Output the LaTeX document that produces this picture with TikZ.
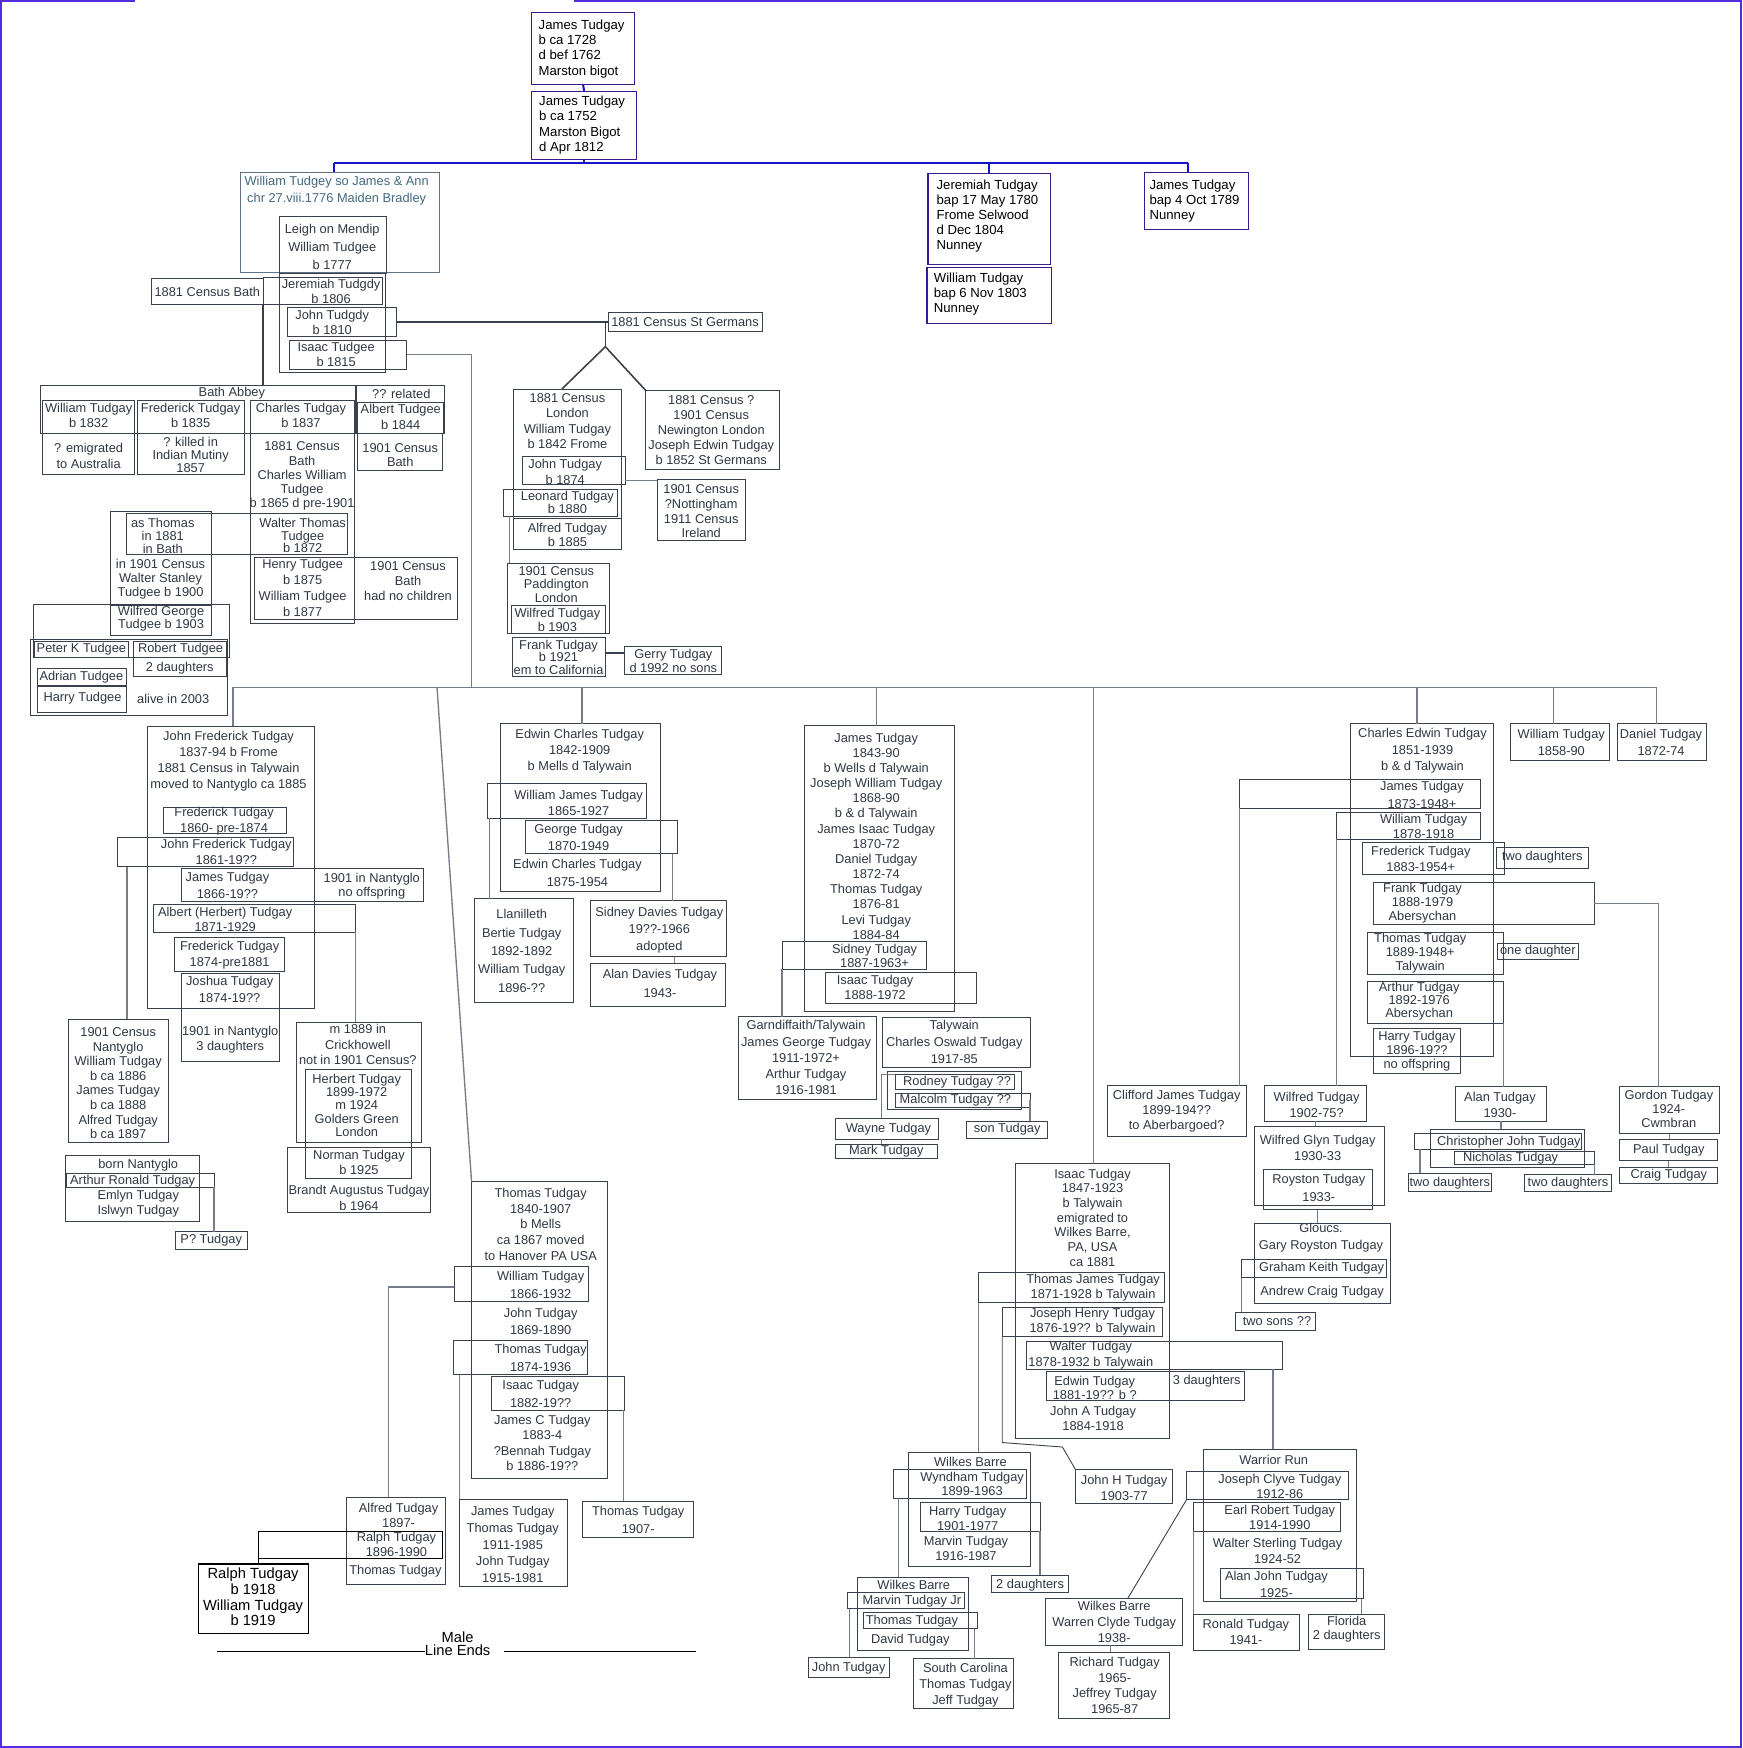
\documentclass[tikz,border=0pt]{standalone}
\usepackage{fontspec}
\setmainfont{Liberation Sans}

\definecolor{boxc}{RGB}{58,64,76}
\definecolor{txtc}{RGB}{48,55,66}
\definecolor{linkc}{RGB}{118,124,136}
\definecolor{bluc}{RGB}{20,20,200}
\definecolor{frmc}{RGB}{84,44,224}
\definecolor{topc}{RGB}{58,26,140}
\definecolor{stbc}{RGB}{66,104,128}
\definecolor{stbd}{RGB}{96,114,134}

\newcommand\nf{\fontsize{11.5}{13.8}\selectfont}
\tikzset{
  bx/.style={draw=boxc,line width=0.8pt,inner sep=0pt,outer sep=0pt},
  topbx/.style={draw=topc,line width=1pt},
  blk/.style={draw=black,line width=1.1pt},
  tx/.style={inner sep=0pt,align=center,text=txtc,font=\nf},
  toptx/.style={inner sep=0pt,align=left,anchor=west,text=black,font=\fontsize{11.8}{13.5}\selectfont},
  ls/.style={font=\fontsize{11.5}{#1}\selectfont},
  lnk/.style={draw=linkc,line width=1.2pt},
  dlnk/.style={draw=boxc,line width=1.4pt},
  blu/.style={draw=bluc,line width=1.8pt},
  frm/.style={draw=frmc,line width=1.6pt},
}
% box from corner to corner, text placed on its own
\newcommand\famb[6][]{\node[bx,#1,minimum width={#5-#3},minimum height={#6-#4}] (#2) at ({(#3+#5)/2},{(#4+#6)/2}) {};}
\newcommand\famt[5][]{\node[tx,#1] (#2) at (#3,#4) {#5};}

\begin{document}
\begin{tikzpicture}[x=1pt,y=-1pt]
\useasboundingbox (0,0) rectangle (1563,1568);
\fill[white] (0,0) rectangle (1563,1568);
\draw[frm] (0.8,0) -- (0.8,1567.2) -- (1561.6,1567.2) -- (1561.6,0);
\draw[frm] (0,0.8) -- (121,0.8);
\draw[frm] (515,0.8) -- (1561.6,0.8);

% first generations
\famb[topbx]{a1}{477}{11}{569}{75.6}
\node[toptx] (a1-t) at (483,44) {James Tudgay\\b ca 1728\\d bef 1762\\Marston bigot};
\famb[topbx]{a2}{477}{82}{571}{143}
\node[toptx] (a2-t) at (483.5,112.2) {James Tudgay\\b ca 1752\\Marston Bigot\\d Apr 1812};
\famb[topbx]{jer}{832.4}{155.6}{942}{237}
\node[toptx] (jer-t) at (840,193.5) {Jeremiah Tudgay\\bap 17 May 1780\\Frome Selwood\\d Dec 1804\\Nunney};
\famb[topbx]{wil1803}{831.5}{240}{943.5}{290}
\node[toptx] (wil1803-t) at (837.5,264) {William Tudgay\\bap 6 Nov 1803\\Nunney};
\famb[topbx]{jam1789}{1026.6}{154.7}{1120}{205.7}
\node[toptx] (jam1789-t) at (1031,180) {James Tudgay\\bap 4 Oct 1789\\Nunney};

\famb[draw=stbd]{w1776}{215.6}{154.6}{394}{244.4}
\famt[text=stbc,ls=15.8]{w1776-t}{302}{171}{William Tudgey so James \& Ann\\chr 27.viii.1776 Maiden Bradley}
\famb{leigh}{251}{194}{347}{245}
\famt[ls=16.5]{leigh-t}{298}{221.5}{Leigh on Mendip\\William Tudgee\\b 1777}

\coordinate (barT1) at (300,146.5);
\coordinate (barT2) at (1066,146.5);
\draw[blu] (a1.south) -- (a2.north);
\draw[blu] (barT1) -- (barT2);
\draw[blu] (a2.south) -- (a2.south |- barT1);
\draw[blu] (barT1) -- (barT1 |- w1776.north);
\draw[blu] (jer.north) -- (jer.north |- barT1);
\draw[blu] (barT2) -- (barT2 |- jam1789.north);

% sons of William
\famb{cbath}{136}{250}{236}{273}
\famt{cbath-t}{186}{262}{1881 Census Bath}
\famb{sons}{251}{245}{346}{334}
\famb{jer1806}{236}{249}{343}{273}
\famt[ls=12.7]{jer1806-t}{297}{261.4}{Jeremiah Tudgdy\\b 1806}
\famb{john1810}{258}{276}{356}{302}
\famt[ls=13.5]{john1810-t}{298}{288.8}{John Tudgdy\\b 1810}
\famb{isaac1815}{260}{305}{365}{331}
\famt[ls=14]{isaac1815-t}{301.5}{318}{Isaac Tudgee\\b 1815}
\famb{stg}{545.5}{280}{683.5}{297}
\famt{stg-t}{614.5}{288.5}{1881 Census St Germans}

% Bath Abbey
\famb{abbey}{36}{346}{319}{389}
\famt{abbey-t}{208}{353}{Bath Abbey}
\famb{related}{320}{346}{399}{389}
\famt{related-t}{360}{353.5}{?? related}
\famb{wil1832}{38}{359}{121}{389}
\famt[ls=13.5]{wil1832-t}{79.5}{372.5}{William Tudgay\\b 1832}
\famb{fre1835}{123}{359}{219}{389}
\famt[ls=13.5]{fre1835-t}{171}{372.5}{Frederick Tudgay\\b 1835}
\famb{cha1837}{225}{359}{318}{389}
\famt[ls=13.5]{cha1837-t}{270}{372.5}{Charles Tudgay\\b 1837}
\famb{alb1844}{321}{361}{398}{389}
\famt[ls=14]{alb1844-t}{359.5}{374}{Albert Tudgee\\b 1844}
\famb{emig}{38}{389}{121}{426}
\famt[ls=14.5]{emig-t}{79.5}{409.3}{? emigrated\\to Australia}
\famb{mutiny}{123}{389}{219}{426}
\famt[ls=12]{mutiny-t}{171}{408}{? killed in\\Indian Mutiny\\1857}
\famb{chacol}{225}{389}{318}{559}
\famt[ls=12.7]{chacol-t}{271}{427}{1881 Census\\Bath\\Charles William\\Tudgee\\b 1865 d pre-1901}
\famb{c01bath}{321}{389}{397}{422}
\famt[ls=12.3]{c01bath-t}{359}{408}{1901 Census\\Bath}
\famb{wal1872}{225}{461}{312}{497}
\famt[ls=11.3]{wal1872-t}{271.5}{480.5}{Walter Thomas\\Tudgee\\b 1872}
\famb{stanley}{99}{459}{190}{570}
\famb{asthom}{113}{461}{190}{497}
\famt[ls=11.5]{asthom-t}{146}{480.5}{as Thomas\\in 1881\\in Bath}
\famt[ls=12.5]{stanley-t}{144}{519.5}{in 1901 Census\\Walter Stanley\\Tudgee b 1900}
\famb{wilgeo}{99}{543}{190}{570}
\famt[ls=10.5]{wilgeo-t}{144.5}{555}{Wilfred George\\Tudgee b 1903}
\famb{henry}{228}{500}{318}{556}
\famt[ls=14.3]{henry-t}{271.5}{527.5}{Henry Tudgee\\b 1875\\William Tudgee\\b 1877}
\famb{nochild}{318}{500}{410}{556}
\famt[ls=13.5]{nochild-t}{366}{521.5}{1901 Census\\Bath\\had no children}
\draw[bx] (asthom.north east) -- (wal1872.north west);
\draw[bx] (asthom.south east) -- (wal1872.south west);

\famb{grpA}{30}{542}{206}{590}
\famb{grpB}{27.5}{574}{204}{642}
\famb{peter}{31}{575}{115}{590}
\famt{peter-t}{73}{582.6}{Peter K Tudgee}
\famb{robert}{119.5}{575}{203}{590}
\famt{robert-t}{162}{582.6}{Robert Tudgee}
\famb{dau2r}{119.5}{590}{203}{607}
\famt{dau2r-t}{161.3}{599.5}{2 daughters}
\famb{adrian}{34}{600}{113}{615}
\famt{adrian-t}{73}{607.7}{Adrian Tudgee}
\famb{harryT}{34}{616}{113}{639}
\famt{harryT-t}{74}{626.5}{Harry Tudgee}
\famt{alive-t}{155.4}{626.5}{alive in 2003}

% London and St Germans
\famb{lon}{461}{349}{557}{493}
\famt[ls=13.8]{lon-t}{509}{377.8}{1881 Census\\London\\William Tudgay\\b 1842 Frome}
\famb{john1874}{469}{409}{561}{435}
\famt[ls=14.4]{john1874-t}{507}{423}{John Tudgay\\b 1874}
\famb{leo1880}{452}{439}{554}{463}
\famt[ls=11.7]{leo1880-t}{509}{450.8}{Leonard Tudgay\\b 1880}
\famb{alf1885}{461}{465}{557}{493}
\famt[ls=12.5]{alf1885-t}{509}{479.5}{Alfred Tudgay\\b 1885}
\famb{nott}{589.5}{430}{669}{484.5}
\famt[ls=13.2]{nott-t}{629}{458.6}{1901 Census\\?Nottingham\\1911 Census\\Ireland}
\famb{cen81q}{579}{350}{699}{421}
\famt[ls=13.4]{cen81q-t}{638}{386}{1881 Census ?\\1901 Census\\Newington London\\Joseph Edwin Tudgay\\b 1852 St Germans}
\famb{padd}{455}{505}{547}{568}
\famt[ls=12.2]{padd-t}{499}{524.2}{1901 Census\\Paddington\\London}
\famb{wil1903}{459}{543}{543}{568}
\famt[ls=12.3]{wil1903-t}{500}{556.2}{Wilfred Tudgay\\b 1903}
\famb{frank1921}{460}{572}{543}{607}
\famt[ls=11]{frank1921-t}{501}{589.5}{Frank Tudgay\\b 1921\\em to California}
\famb{gerry}{560}{580}{647.5}{605}
\famt[ls=12.6]{gerry-t}{604}{592.5}{Gerry Tudgay\\d 1992 no sons}

\draw[dlnk] (cbath.south east) -- (cbath.south east |- abbey.north);
\draw[dlnk] (john1810.east) -- (john1810.east -| stg.west);
\coordinate (stgfork) at (543,311);
\draw[dlnk] (john1810.east -| stgfork) -- (stgfork);
\draw[dlnk] (stgfork) -- ([xshift=-5]lon.north);
\draw[dlnk] (stgfork) -- (cen81q.north west);
\coordinate (johnR) at ([yshift=-9]john1874.east);
\draw[lnk] (johnR) -- (johnR -| nott.west);
\coordinate (leoFoot) at ([xshift=5]leo1880.south west);
\draw[lnk] (leoFoot) -- (leoFoot |- padd.north);
\coordinate (gerL) at ([yshift=6.5]gerry.west);
\draw[dlnk] (gerL) -- (gerL -| frank1921.east);

% the long bar
\coordinate (barIsaac) at (423,616.5);
\coordinate (barDiag) at (392,616.5);
\coordinate (dropJF) at (209,616.5);
\coordinate (dropEC) at (522,616.5);
\coordinate (dropJT) at (786,616.5);
\coordinate (dropIT) at (981,616.5);
\coordinate (dropCE) at (1271,616.5);
\coordinate (dropW) at (1393.5,616.5);
\coordinate (dropD) at (1486,616.5);
\draw[lnk] (isaac1815.east) -| (barIsaac);
\draw[lnk] (dropJF) -- (dropD);

% John Frederick
\famb{jf}{132}{651.5}{282}{905}
\famt[ls=14.3]{jf-t}{205}{683}{John Frederick Tudgay\\1837-94 b Frome\\1881 Census in Talywain\\moved to Nantyglo ca 1885}
\famb{fre1860}{146.5}{724}{257}{748}
\famt[ls=14]{fre1860-t}{201}{736.6}{Frederick Tudgay\\1860- pre-1874}
\famb{jf1861}{105.5}{751}{263}{777.5}
\famt[ls=14.3]{jf1861-t}{203}{764.5}{John Frederick Tudgay\\1861-19??}
\famb{jam1866}{162.6}{779}{282}{808.5}
\famt[ls=15.4]{jam1866-t}{204}{794.3}{James Tudgay\\1866-19??}
\famb{nooff}{282}{779}{379.7}{808.5}
\famt[ls=12.4]{nooff-t}{333.5}{795.2}{1901 in Nantyglo\\no offspring}
\famb{alb1871}{138}{811}{318.6}{836}
\famt[ls=13.1]{alb1871-t}{202}{825}{Albert (Herbert) Tudgay\\1871-1929}
\famb{fre1874}{156.6}{841}{255}{871}
\famt[ls=14.6]{fre1874-t}{206}{856.7}{Frederick Tudgay\\1874-pre1881}
\famb{josh}{162.8}{873}{250.6}{904.6}
\famt[ls=15.5]{josh-t}{206}{887.7}{Joshua Tudgay\\1874-19??}
\famb{dau3}{162.8}{904.6}{250.6}{952}
\famt[ls=13.3]{dau3-t}{206.5}{932.3}{1901 in Nantyglo\\3 daughters}
\famb{nant}{61}{914.5}{151}{1025}
\famt[ls=13.1]{nant-t}{106}{971.6}{1901 Census\\Nantyglo\\William Tudgay\\b ca 1886\\James Tudgay\\b ca 1888\\Alfred Tudgay\\b ca 1897}
\famb{m1889}{266}{917}{378}{1025}
\famt[ls=13.6]{m1889-t}{321}{936.9}{m 1889 in\\Crickhowell\\not in 1901 Census?}
\famb{herb}{274}{959}{369}{1057}
\famt[ls=12]{herb-t}{320}{991.5}{Herbert Tudgay\\1899-1972\\m 1924\\Golders Green\\London}
\famb{norm}{258}{1029}{386}{1087.5}
\famt[ls=13.4]{norm-t}{322}{1042.4}{Norman Tudgay\\b 1925}
\famt[ls=14.5]{brandt-t}{322}{1074.3}{Brandt Augustus Tudgay\\b 1964}
\famb{bornN}{58.7}{1036.5}{179}{1095.5}
\famt{bornN-t}{124}{1045.3}{born Nantyglo}
\famb{arthR}{60}{1052.5}{192}{1065}
\famt{arthR-t}{119}{1059.4}{Arthur Ronald Tudgay}
\famt[ls=13.8]{emlyn-t}{124}{1079.7}{Emlyn Tudgay\\Islwyn Tudgay}
\famb{ptud}{157}{1105}{222}{1121}
\famt{ptud-t}{189.5}{1112.6}{P? Tudgay}

\draw[lnk] (dropJF) -- (dropJF |- jf.north);
\coordinate (jfFoot) at ([xshift=8.5]jf1861.south west);
\draw[lnk] (jfFoot) -- (jfFoot |- nant.north);
\draw[lnk] (alb1871.south east) -- (alb1871.south east |- m1889.north);
\draw[lnk] (arthR.south east) -- (arthR.south east |- ptud.north);

% Edwin Charles
\famb{ec}{449}{649}{592}{800}
\famt[ls=14.5]{ec-t}{520}{674}{Edwin Charles Tudgay\\1842-1909\\b Mells d Talywain}
\famb{wj1865}{437}{703}{580}{734}
\famt[ls=15]{wj1865-t}{519}{720.2}{William James Tudgay\\1865-1927}
\famb{geo1870}{471}{736}{608}{766}
\famt[ls=15.8]{geo1870-t}{519}{751.1}{George Tudgay\\1870-1949}
\famt[ls=16.4]{ec1875-t}{518}{782.8}{Edwin Charles Tudgay\\1875-1954}
\famb{llan}{426}{806}{514}{899.5}
\famt[ls=16.5]{llan-t}{468}{853}{Llanilleth\\Bertie Tudgay\\1892-1892\\William Tudgay\\1896-??}
\famb{sdt}{530}{808}{652}{858}
\famt[ls=15.2]{sdt-t}{591.4}{834.7}{Sidney Davies Tudgay\\19??-1966\\adopted}
\famb{ada}{530}{864}{651}{902.6}
\famt[ls=17.4]{ada-t}{592}{882}{Alan Davies Tudgay\\1943-}

\draw[lnk] (dropEC) -- (dropEC |- ec.north);
\coordinate (wjFoot) at ([xshift=2]wj1865.south west);
\draw[lnk] (wjFoot) -- (wjFoot |- llan.north);
\coordinate (geoFoot) at ([xshift=-4.5]geo1870.south east);
\draw[lnk] (geoFoot) -- (geoFoot |- sdt.north);
\coordinate (sdtFoot) at ([xshift=14]sdt.south);
\draw[lnk] (sdtFoot) -- (sdtFoot |- ada.north);

% James 1843-90
\famb{jt}{722}{651}{856}{907}
\famt[ls=13.6]{jt-t}{786}{750}{James Tudgay\\1843-90\\b Wells d Talywain\\Joseph William Tudgay\\1868-90\\b \& d Talywain\\James Isaac Tudgay\\1870-72\\Daniel Tudgay\\1872-74\\Thomas Tudgay\\1876-81\\Levi Tudgay\\1884-84}
\famb{sid1887}{701.6}{844.6}{831}{869.5}
\famt[ls=12.8]{sid1887-t}{784.5}{857.4}{Sidney Tudgay\\1887-1963+}
\famb{isa1888}{740}{872}{876}{900}
\famt[ls=13.3]{isa1888-t}{785}{885.4}{Isaac Tudgay\\1888-1972}
\famb{garn}{662}{912}{786}{986}
\famt[ls=14.6]{garn-t}{723}{948.8}{Garndiffaith/Talywain\\James George Tudgay\\1911-1972+\\Arthur Tudgay\\1916-1981}
\famb{taly}{791.5}{913}{924}{957.6}
\famt[ls=15.3]{taly-t}{856}{934.3}{Talywain\\Charles Oswald Tudgay\\1917-85}
\famb{rodO}{796}{961}{916}{995}
\famb{rod}{803}{964}{910}{977}
\famt{rod-t}{858.5}{970.5}{Rodney Tudgay ??}
\famb{mal}{803}{981}{924}{993}
\famt{mal-t}{857}{987}{Malcolm Tudgay ??}
\famb{wayne}{749}{1003}{842}{1022}
\famt{wayne-t}{797}{1013}{Wayne Tudgay}
\famb{mark}{749}{1026.5}{841}{1039}
\famt{mark-t}{795}{1032.8}{Mark Tudgay}
\famb{son}{867}{1005.6}{940}{1021}
\famt{son-t}{903.5}{1013.3}{son Tudgay}

\draw[lnk] (dropJT) -- (dropJT |- jt.north);
\draw[lnk] (sid1887.south west) -- (sid1887.south west |- garn.north);
\draw[lnk] (rod.north west) -| ([xshift=-5]wayne.north);
\draw[lnk] (mal.east) -- (mal.east |- son.north);
\coordinate (wayFoot) at ([xshift=-5]wayne.south);
\draw[lnk] (wayFoot) -- (wayFoot |- mark.north);

% Charles Edwin
\famb{ce}{1211}{649}{1340}{947.5}
\famt[ls=14.9]{ce-t}{1276}{673.5}{Charles Edwin Tudgay\\1851-1939\\b \& d Talywain}
\famb{jam1873}{1112}{699}{1328}{725}
\famt[ls=16.2]{jam1873-t}{1275.5}{712.7}{James Tudgay\\1873-1948+}
\famb{wil1878}{1198.6}{728.6}{1328}{752.6}
\famt[ls=14]{wil1878-t}{1277}{741.3}{William Tudgay\\1878-1918}
\famb{fre1883}{1222}{756}{1349.5}{784}
\famt[ls=14]{fre1883-t}{1274.5}{770.6}{Frederick Tudgay\\1883-1954+}
\famb{dau2a}{1342}{760}{1425}{779}
\famt{dau2a-t}{1383.5}{769.3}{two daughters}
\famb{frank1888}{1232}{791.6}{1430}{829}
\famt[ls=12.5]{frank1888-t}{1276}{810.5}{Frank Tudgay\\1888-1979\\Abersychan}
\famb{tho1889}{1226.6}{836}{1348.6}{874}
\famt[ls=12.6]{tho1889-t}{1274}{854.8}{Thomas Tudgay\\1889-1948+\\Talywain}
\famb{dau1}{1343}{846}{1416}{861}
\famt{dau1-t}{1379.5}{853.5}{one daughter}
\famb{art1892}{1226.6}{880}{1348.6}{918}
\famt[ls=12]{art1892-t}{1273}{898}{Arthur Tudgay\\1892-1976\\Abersychan}
\famb{har1896}{1232}{922.6}{1310}{947.5}
\famt[ls=12.2]{har1896-t}{1271}{935.4}{Harry Tudgay\\1896-19??}
\famb{nooff2}{1232}{947.5}{1310}{963}
\famt{nooff2-t}{1271}{955.5}{no offspring}
\famb{cliff}{993}{974}{1118}{1019}
\famt[ls=13.5]{cliff-t}{1055.5}{996.5}{Clifford James Tudgay\\1899-194??\\to Aberbargoed?}
\famb{wilf}{1134}{974}{1226}{1006}
\famt[ls=14]{wilf-t}{1181}{991}{Wilfred Tudgay\\1902-75?}
\famb{glyn}{1125}{1010}{1242}{1081}
\famt[ls=14.1]{glyn-t}{1182}{1029.4}{Wilfred Glyn Tudgay\\1930-33}
\famb{roy}{1133}{1049}{1231}{1085}
\famt[ls=16.5]{roy-t}{1183}{1065.6}{Royston Tudgay\\1933-}
\famb{glou}{1125}{1097}{1247}{1169}
\famt[ls=14.9]{glou-t}{1185}{1110.2}{Gloucs.\\Gary Royston Tudgay}
\famb{gra}{1113.6}{1130}{1243.6}{1146}
\famt{gra-t}{1185.5}{1138}{Graham Keith Tudgay}
\famt{and-t}{1186}{1159}{Andrew Craig Tudgay}
\famb{sons2}{1108}{1177}{1180}{1193.5}
\famt{sons2-t}{1145.5}{1185}{two sons ??}
\famb{alan}{1305.6}{975}{1387}{1006}
\famt[ls=14.3]{alan-t}{1345.5}{991.2}{Alan Tudgay\\1930-}
\famb{chrO}{1283}{1013}{1421}{1047}
\famb{chr}{1269}{1017}{1419}{1031}
\famt{chr-t}{1353.5}{1024.4}{Christopher John Tudgay}
\famb{nic}{1305}{1032.5}{1430}{1044.5}
\famt{nic-t}{1355}{1038.6}{Nicholas Tudgay}
\famb{dau2b}{1263}{1052.5}{1338}{1068.6}
\famt{dau2b-t}{1300.5}{1061}{two daughters}
\famb{dau2c}{1367.5}{1053.6}{1445.6}{1068.6}
\famt{dau2c-t}{1406.5}{1061.3}{two daughters}
\famb{gordon}{1453}{975}{1542.5}{1017}
\famt[ls=12.3]{gordon-t}{1497}{994.9}{Gordon Tudgay\\1924-\\Cwmbran}
\famb{paul}{1453}{1022}{1540.6}{1041}
\famt{paul-t}{1497}{1031.3}{Paul Tudgay}
\famb{craig}{1453}{1047}{1540.6}{1062}
\famt{craig-t}{1497}{1054}{Craig Tudgay}
\famb{w1858}{1355}{649}{1444}{682}
\famt[ls=15]{w1858-t}{1400.5}{666}{William Tudgay\\1858-90}
\famb{dan}{1451}{649}{1531}{682}
\famt[ls=15]{dan-t}{1490}{666}{Daniel Tudgay\\1872-74}

\draw[lnk] (dropCE) -- (dropCE |- ce.north);
\draw[lnk] (dropW) -- (dropW |- w1858.north);
\draw[lnk] (dropD) -- (dropD |- dan.north);
\draw[lnk] (jam1873.south west) -- (jam1873.south west |- cliff.north);
\draw[lnk] (wil1878.south west) -- (wil1878.south west |- wilf.north);
\draw[lnk] (frank1888.east) -| ([xshift=-10]gordon.north);
\draw[lnk] (art1892.south east) -- (art1892.south east |- alan.north);
\draw[lnk] (wilf.south) -- (wilf.south |- glyn.north);
\draw[lnk] (roy.south) -- (roy.south |- glou.north);
\draw[lnk] (gra.south west) -- (gra.south west |- sons2.north);
\draw[lnk] (alan.south) -- (alan.south |- chrO.north);
\coordinate (chrFoot) at ([xshift=4.7]chr.south west);
\draw[lnk] (chrFoot) -- (chrFoot |- dau2b.north);
\draw[lnk] (nic.south east) -- (nic.south east |- dau2c.north);
\draw[lnk] (gordon.south) -- (gordon.south |- paul.north);
\draw[lnk] (paul.south) -- (paul.south |- craig.north);

% Isaac 1847-1923
\famb{it}{911}{1044}{1049}{1290.5}
\famt[ls=13.15]{it-t}{980}{1092.3}{Isaac Tudgay\\1847-1923\\b Talywain\\emigrated to\\Wilkes Barre,\\PA, USA\\ca 1881}
\famb{tj1871}{877.5}{1141}{1044.5}{1168.6}
\famt[ls=14]{tj1871-t}{980.5}{1155}{Thomas James Tudgay\\1871-1928 b Talywain}
\famb{jh1876}{899}{1172.5}{1042.6}{1199}
\famt[ls=13.5]{jh1876-t}{980}{1185.2}{Joseph Henry Tudgay\\1876-19?? b Talywain}
\famb{wal1878}{921}{1203}{1150}{1228}
\famt[ls=14.1]{wal1878-t}{978.5}{1215.4}{Walter Tudgay\\1878-1932 b Talywain}
\famb{edw1881}{939}{1230}{1116}{1256}
\famt[ls=12.2]{edw1881-t}{982}{1244.9}{Edwin Tudgay\\1881-19?? b ?}
\famt{dau3b-t}{1082.5}{1238.8}{3 daughters}
\famt[ls=13.7]{johnA-t}{980.5}{1272.6}{John A Tudgay\\1884-1918}
\famb{wb1}{815}{1302.6}{924}{1405}
\famt{wb1-t}{870.5}{1311.5}{Wilkes Barre}
\famb{wyn}{801}{1318}{920.6}{1344}
\famt[ls=12.8]{wyn-t}{872}{1331.4}{Wyndham Tudgay\\1899-1963}
\famb{har1901}{825.6}{1348}{933}{1373.7}
\famt[ls=13.4]{har1901-t}{868}{1361.7}{Harry Tudgay\\1901-1977}
\famt[ls=12.9]{marv-t}{866.5}{1388.9}{Marvin Tudgay\\1916-1987}
\famb{dau2d}{889.6}{1413}{958}{1428.6}
\famt{dau2d-t}{924}{1421.5}{2 daughters}
\famb{wb2}{769}{1415}{868.6}{1480.5}
\famt{wb2-t}{819.7}{1421.5}{Wilkes Barre}
\famb{marvJr}{760.5}{1428.5}{865}{1443}
\famt{marvJr-t}{818}{1436.2}{Marvin Tudgay Jr}
\famb{tho2}{774.6}{1446.6}{876.6}{1461}
\famt{tho2-t}{818}{1454.2}{Thomas Tudgay}
\famt{dav-t}{816.6}{1471}{David Tudgay}
\famb{jt2}{725}{1486.5}{797.6}{1504.5}
\famt{jt2-t}{761.3}{1496}{John Tudgay}
\famb{sc}{819}{1488}{909}{1532.6}
\famt[ls=14.5]{sc-t}{866}{1511.5}{South Carolina\\Thomas Tudgay\\Jeff Tudgay}
\famb{johnH}{964.6}{1318}{1052}{1349}
\famt[ls=14.1]{johnH-t}{1008.4}{1334.4}{John H Tudgay\\1903-77}
\famb{war}{1079.6}{1300}{1216.7}{1436.6}
\famt{war-t}{1142.6}{1309.4}{Warrior Run}
\famb{jcl}{1064.5}{1320}{1210}{1345}
\famt[ls=13.6]{jcl-t}{1148}{1333.2}{Joseph Clyve Tudgay\\1912-86}
\famb{earl}{1070.6}{1348}{1202.4}{1373.7}
\famt[ls=13.5]{earl-t}{1148}{1361}{Earl Robert Tudgay\\1914-1990}
\famt[ls=14]{wst-t}{1146}{1391.2}{Walter Sterling Tudgay\\1924-52}
\famb{aj}{1094.7}{1407}{1223.3}{1434}
\famt[ls=14.7]{aj-t}{1145}{1421.4}{Alan John Tudgay\\1925-}
\famb{ron}{1070.6}{1448}{1165.6}{1480.5}
\famt[ls=14.3]{ron-t}{1117.6}{1463.7}{Ronald Tudgay\\1941-}
\famb{flo}{1173.6}{1448}{1241.8}{1479.6}
\famt[ls=12.7]{flo-t}{1208}{1461.4}{Florida\\2 daughters}
\famb{warren}{938}{1434}{1061}{1476}
\famt[ls=14.1]{warren-t}{999.5}{1454.9}{Wilkes Barre\\Warren Clyde Tudgay\\1938-}
\famb{rich}{949}{1482}{1049}{1541.5}
\famt[ls=13.9]{rich-t}{999.9}{1511.9}{Richard Tudgay\\1965-\\Jeffrey Tudgay\\1965-87}

\draw[lnk] (dropIT) -- (dropIT |- it.north);
\draw[lnk] (tj1871.south west) -- (tj1871.south west |- wb1.north);
\coordinate (jhk1) at (899,1294);
\coordinate (jhk2) at (953,1298);
\draw[bx] (jh1876.south west) -- (jhk1) -- (jhk2) -- (johnH.north west);
\coordinate (walFoot) at ([xshift=-8]wal1878.south east);
\draw[lnk] (walFoot) -- (walFoot |- war.north);
\draw[lnk] (har1901.south east) -- (har1901.south east |- dau2d.north);
\coordinate (wynFoot) at ([xshift=5]wyn.south west);
\draw[lnk] (wynFoot) -- (wynFoot |- wb2.north);
\coordinate (mjFoot) at ([xshift=1.5]marvJr.south west);
\draw[lnk] (mjFoot) -- (mjFoot |- jt2.north);
\coordinate (thoFoot) at ([xshift=-2.6]tho2.south east);
\draw[lnk] (thoFoot) -- (thoFoot |- sc.north);
\draw[bx] (jcl.south west) -- ([xshift=12]warren.north);
\draw[lnk] (earl.south west) -- (earl.south west |- ron.north);
\coordinate (ajFoot) at ([xshift=-2]aj.south east);
\draw[lnk] (ajFoot) -- (ajFoot |- flo.north);
\coordinate (warFoot) at ([xshift=-3.5]warren.south);
\draw[lnk] (warFoot) -- (warFoot |- rich.north);

% Thomas 1840-1907
\famb{tt}{423}{1060}{545}{1326}
\famt[ls=14.2]{tt-t}{485}{1098.2}{Thomas Tudgay\\1840-1907\\b Mells\\ca 1867 moved\\to Hanover PA USA}
\famb{wil1866}{407.5}{1135.7}{528}{1167}
\famt[ls=15.9]{wil1866-t}{485}{1152.5}{William Tudgay\\1866-1932}
\famt[ls=14.9]{john1869-t}{485}{1185.2}{John Tudgay\\1869-1890}
\famb{tho1874}{407}{1202.6}{527}{1233}
\famt[ls=16.3]{tho1874-t}{485}{1218.2}{Thomas Tudgay\\1874-1936}
\famb{isa1882}{441}{1235}{560}{1265}
\famt[ls=15.9]{isa1882-t}{485}{1250.4}{Isaac Tudgay\\1882-19??}
\famt[ls=13.7]{jc-t}{486.5}{1294.3}{James C Tudgay\\1883-4\\?Bennah Tudgay\\b 1886-19??}
\famb{alf}{310.7}{1343}{399.7}{1421}
\famt[ls=13.1]{alf-t}{357.5}{1359.3}{Alfred Tudgay\\1897-}
\famb[blk]{ralph}{232}{1374}{397}{1398}
\famt[ls=13.5]{ralph-t}{355.6}{1385.5}{Ralph Tudgay\\1896-1990}
\famt{tho2a-t}{354.7}{1409.3}{Thomas Tudgay}
\famb[blk]{ralph18}{178}{1403}{277}{1465.6}
\famt[text=black,font=\fontsize{13.2}{14}\selectfont]{ralph18-t}{227}{1432.6}{Ralph Tudgay\\b 1918\\William Tudgay\\b 1919}
\famb{jtj}{412.4}{1345}{508.8}{1423}
\famt[ls=15]{jtj-t}{460}{1385.4}{James Tudgay\\Thomas Tudgay\\1911-1985\\John Tudgay\\1915-1981}
\famb{t1907}{522.6}{1346.5}{622.4}{1379}
\famt[ls=15.8]{t1907-t}{572.5}{1363.4}{Thomas Tudgay\\1907-}

\draw[lnk] (barDiag) -- (tt.north west);
\coordinate (wilL) at ([yshift=-3]wil1866.west);
\draw[lnk] (wilL) -| ([xshift=-6.7]alf.north);
\coordinate (thoF) at ([xshift=5.4]tho1874.south west);
\draw[lnk] (thoF) -- (thoF |- jtj.north);
\coordinate (isaF) at ([xshift=-1]isa1882.south east);
\draw[lnk] (isaF) -- (isaF |- t1907.north);
\draw[blk] (ralph.south west) -- (ralph.south west |- ralph18.north);

% end of the male line
\famt[text=black,font=\fontsize{13.2}{11.5}\selectfont]{male}{410.5}{1474.5}{Male\\Line Ends}
\coordinate (endL) at (194.7,1481);
\coordinate (endR) at (624.6,1481);
\draw[black,line width=0.9pt] (endL) -- (endL -| male.west);
\draw[black,line width=0.9pt] ([xshift=12]male.east |- endR) -- (endR);
\end{tikzpicture}
\end{document}
